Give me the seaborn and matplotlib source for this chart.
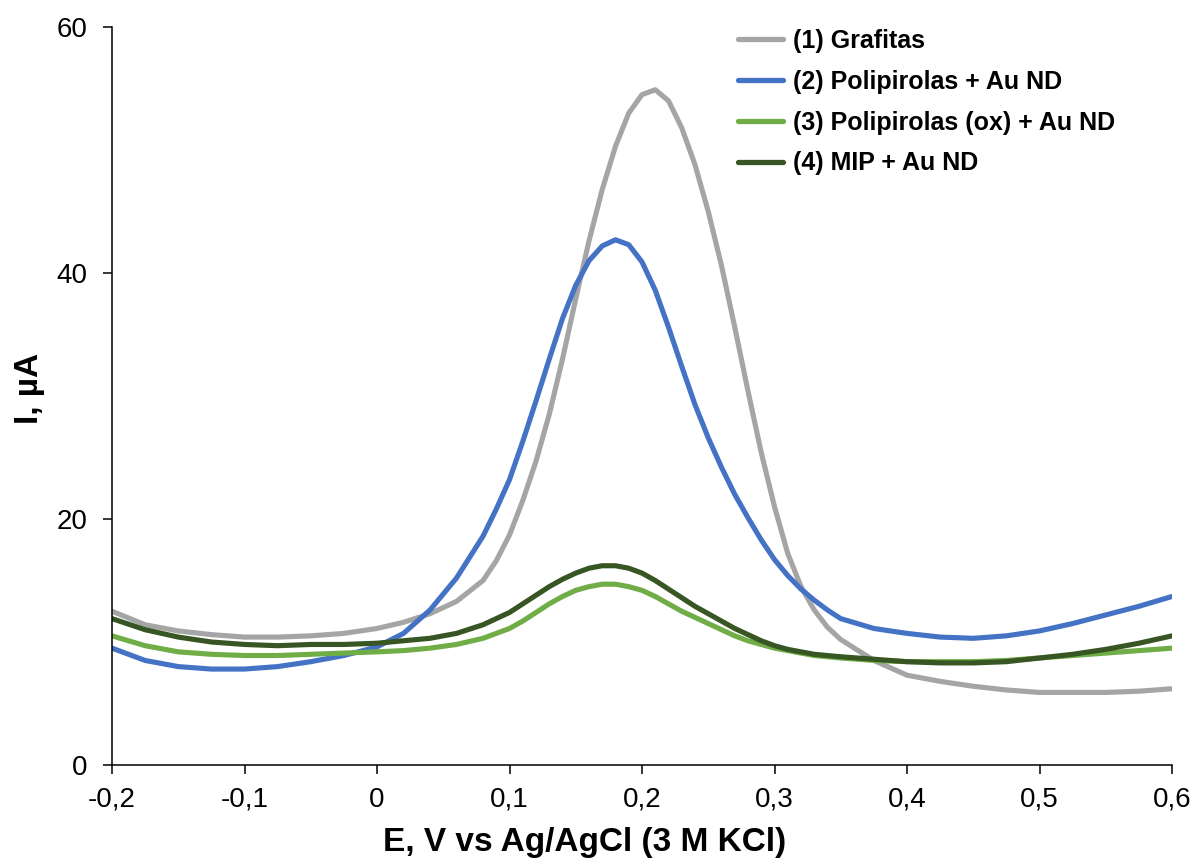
import numpy as np
import pandas as pd
import matplotlib
matplotlib.use("Agg")
import matplotlib.pyplot as plt
import seaborn as sns

# ---- data ----
E = [-0.2, -0.175, -0.15, -0.125, -0.1, -0.075, -0.05, -0.025, 0.0, 0.02, 0.04, 0.06,
     0.08, 0.09, 0.10, 0.11, 0.12, 0.13, 0.14, 0.15, 0.16, 0.17, 0.18, 0.19, 0.20,
     0.21, 0.22, 0.23, 0.24, 0.25, 0.26, 0.27, 0.28, 0.29, 0.30, 0.31, 0.32, 0.33,
     0.34, 0.35, 0.375, 0.40, 0.425, 0.45, 0.475, 0.50, 0.525, 0.55, 0.575, 0.60]

grafitas = [12.5, 11.4, 10.9, 10.6, 10.4, 10.4, 10.5, 10.7, 11.1, 11.6, 12.3, 13.3,
            15.0, 16.6, 18.7, 21.5, 24.7, 28.5, 33.0, 37.9, 42.6, 46.8, 50.3, 53.0, 54.5,
            54.9, 54.0, 51.8, 48.8, 45.0, 40.6, 35.6, 30.4, 25.4, 21.0, 17.2, 14.5, 12.6,
            11.2, 10.2, 8.5, 7.3, 6.8, 6.4, 6.1, 5.9, 5.9, 5.9, 6.0, 6.2]

polipirolas = [9.5, 8.5, 8.0, 7.8, 7.8, 8.0, 8.4, 8.9, 9.6, 10.7, 12.6, 15.2,
               18.6, 20.8, 23.2, 26.3, 29.6, 33.0, 36.3, 39.0, 41.0, 42.2, 42.7, 42.3, 40.9,
               38.6, 35.6, 32.4, 29.3, 26.6, 24.2, 22.0, 20.1, 18.3, 16.7, 15.4, 14.3, 13.4,
               12.6, 11.9, 11.1, 10.7, 10.4, 10.3, 10.5, 10.9, 11.5, 12.2, 12.9, 13.7]

polipirolas_ox = [10.5, 9.7, 9.2, 9.0, 8.9, 8.9, 9.0, 9.1, 9.2, 9.3, 9.5, 9.8,
                  10.3, 10.7, 11.1, 11.7, 12.4, 13.1, 13.7, 14.2, 14.5, 14.7, 14.7, 14.5, 14.2,
                  13.7, 13.1, 12.5, 12.0, 11.5, 11.0, 10.5, 10.1, 9.8, 9.5, 9.3, 9.1, 8.9,
                  8.8, 8.7, 8.5, 8.4, 8.4, 8.4, 8.5, 8.7, 8.9, 9.1, 9.3, 9.5]

mip = [11.9, 11.0, 10.4, 10.0, 9.8, 9.7, 9.8, 9.8, 9.9, 10.1, 10.3, 10.7,
       11.4, 11.9, 12.4, 13.1, 13.8, 14.5, 15.1, 15.6, 16.0, 16.2, 16.2, 16.0, 15.6,
       15.0, 14.3, 13.6, 12.9, 12.3, 11.7, 11.1, 10.6, 10.1, 9.7, 9.4, 9.2, 9.0,
       8.9, 8.8, 8.6, 8.4, 8.3, 8.3, 8.4, 8.7, 9.0, 9.4, 9.9, 10.5]

series_names = ["(1) Grafitas", "(2) Polipirolas + Au ND",
                "(3) Polipirolas (ox) + Au ND", "(4) MIP + Au ND"]
colors = ["#A5A5A5", "#4472C4", "#70AD47", "#375623"]

x_ticks = [-0.2, -0.1, 0.0, 0.1, 0.2, 0.3, 0.4, 0.5, 0.6]
x_ticklabels = ["-0,2", "-0,1", "0", "0,1", "0,2", "0,3", "0,4", "0,5", "0,6"]
y_ticks = [0, 20, 40, 60]
y_ticklabels = ["0", "20", "40", "60"]

# ---- build long table ----
frames = []
for name, vals in zip(series_names, [grafitas, polipirolas, polipirolas_ox, mip]):
    frames.append(pd.DataFrame({"E": E, "I": vals, "series": name}))
df = pd.concat(frames, ignore_index=True)

sns.set_style("ticks")
plt.rcParams["font.family"] = ["Liberation Sans", "DejaVu Sans"]
plt.rcParams["text.color"] = "black"
plt.rcParams["axes.labelcolor"] = "black"
plt.rcParams["xtick.color"] = "black"
plt.rcParams["ytick.color"] = "black"

fig = plt.figure(figsize=(11.94, 8.67), dpi=100)
ax = fig.add_axes([112 / 1194, 102 / 867, 1060 / 1194, 738 / 867])

sns.lineplot(data=df, x="E", y="I", hue="series", hue_order=series_names,
             palette=colors, linewidth=3.7, ax=ax, sort=False, estimator=None)
for ln in ax.get_lines():
    ln.set_solid_joinstyle("round")
    ln.set_solid_capstyle("round")

ax.set_xlim(-0.2, 0.6)
ax.set_ylim(0, 60)
ax.set_xticks(x_ticks)
ax.set_xticklabels(x_ticklabels)
ax.set_yticks(y_ticks)
ax.set_yticklabels(y_ticklabels)
ax.tick_params(axis="both", labelsize=20, length=6.5, width=1.1, color="black",
               labelcolor="black", direction="out")
ax.tick_params(axis="x", pad=9)
ax.tick_params(axis="y", pad=11)
for s in ["top", "right"]:
    ax.spines[s].set_visible(False)
for s in ["left", "bottom"]:
    ax.spines[s].set_color("black")
    ax.spines[s].set_linewidth(1.1)

ax.set_xlabel("E, V vs Ag/AgCl (3 M KCl)", fontsize=24, fontweight="bold")
ax.xaxis.label.set_va("top")
ax.xaxis.set_label_coords(0.446, -0.084)
ax.set_ylabel("I, µA", fontsize=24, fontweight="bold")
ax.yaxis.label.set_va("center")
ax.yaxis.set_label_coords(-0.0774, 0.51)

leg = ax.legend(loc="upper left", bbox_to_anchor=(0.591, 0.997), frameon=False,
                prop={"weight": "bold", "size": 18}, handlelength=1.8,
                handletextpad=0.4, labelspacing=0.67, borderaxespad=0, borderpad=0)
for line in leg.get_lines():
    line.set_linewidth(3.8)
    line.set_solid_capstyle("round")

fig.savefig("out.png", dpi=100)
